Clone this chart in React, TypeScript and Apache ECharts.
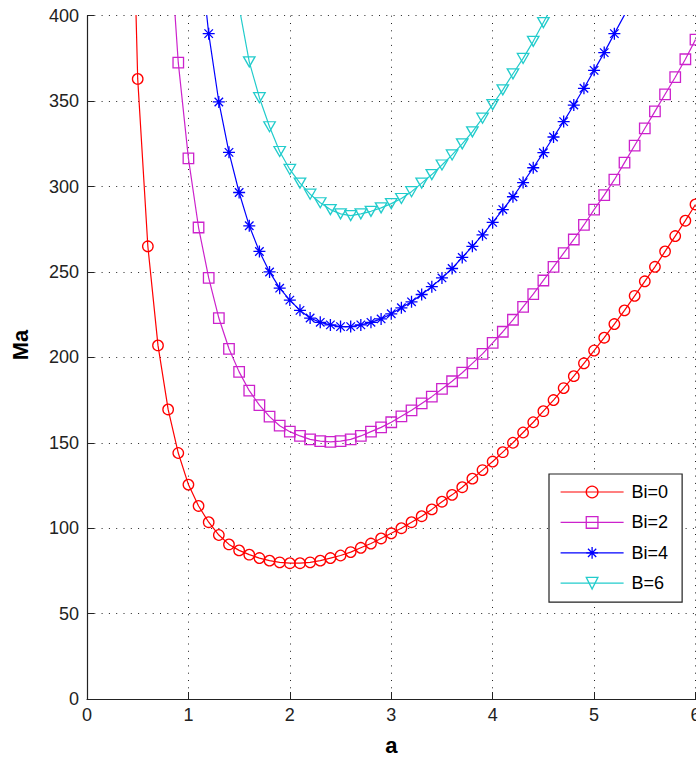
import { useEffect, useRef } from "react";
import * as echarts from "echarts";

// a values (step 0.1) shared by all curves
const aGrid = [
  0.4, 0.5, 0.6, 0.7, 0.8, 0.9, 1.0, 1.1, 1.2, 1.3, 1.4, 1.5, 1.6, 1.7, 1.8, 1.9,
  2.0, 2.1, 2.2, 2.3, 2.4, 2.5, 2.6, 2.7, 2.8, 2.9, 3.0, 3.1, 3.2, 3.3, 3.4, 3.5,
  3.6, 3.7, 3.8, 3.9, 4.0, 4.1, 4.2, 4.3, 4.4, 4.5, 4.6, 4.7, 4.8, 4.9, 5.0, 5.1,
  5.2, 5.3, 5.4, 5.5, 5.6, 5.7, 5.8, 5.9, 6.0,
];

const seriesNames = ["Bi=0", "Bi=2", "Bi=4", "B=6"];

// Bi=0, starts at a=0.4
const bi0Start = 0;
const bi0 = [
  590, 363, 265, 207, 169.5, 144, 125.5, 113, 103.5, 96, 90.5, 87, 84.5, 82.5, 81, 80,
  79.5, 79.5, 80, 81, 82.5, 84, 86, 88.5, 91, 94, 97, 100, 103.5, 107, 111, 115.5,
  119.5, 124, 129, 134, 139, 144.5, 150, 156, 162, 168.5, 175, 182, 189, 196.5, 204, 211.5,
  219.5, 227.5, 236, 244.5, 253, 262, 271, 280, 289.5,
];

// Bi=2, starts at a=0.8
const bi2Start = 4;
const bi2 = [
  460, 372.5, 316.5, 276, 246.5, 223, 205, 191.5, 180.5, 172, 165.3, 160,
  156.5, 154, 152, 151, 150.5, 151, 152, 154, 156.5, 159, 162, 165.5, 169, 173, 177, 181.5,
  186, 191, 196.5, 202, 208.5, 215, 222, 229.5, 237, 245, 253, 261, 269, 277.5, 286.5, 295,
  304, 314, 324, 334, 344, 354, 364, 374.5, 386,
];

// Bi=4, starts at a=1.1
const bi4Start = 7;
const bi4 = [
  445, 389.5, 349.5, 320, 296.5, 277, 262, 250, 240.5, 233.5, 227.5, 223, 220.5, 219, 218,
  218, 219, 220.5, 222.5, 225.5, 229, 232.5, 236.8, 241.4, 246.5, 252, 258.5, 265, 271.7,
  279, 286.5, 294, 302.3, 311, 319.8, 329, 338, 347.7, 357.5, 368, 378.4, 389.5, 400.5,
];

// B=6, starts at a=1.4
const b6Start = 10;
const b6 = [
  450, 405, 373, 352, 335, 320.5, 310, 302, 295.5, 290.5, 286.5, 284, 283, 284, 285.5,
  287.5, 290, 293, 297, 302, 307, 312.6, 318.5, 325, 332, 340, 348, 356.6, 366, 375,
  385, 396, 407,
];

const xTicks = [0, 1, 2, 3, 4, 5, 6];
const yTicks = [0, 50, 100, 150, 200, 250, 300, 350, 400];

const colors = ["#ff0000", "#cc22cc", "#0000ff", "#22cccc"];
const symbols = [
  "circle",
  "rect",
  "path://M0,-10L0,10M-10,0L10,0M-7.07,-7.07L7.07,7.07M-7.07,7.07L7.07,-7.07",
  "path://M-10,-8.66L10,-8.66L0,8.66Z",
];
const symbolSizes: any[] = [10.5, 10.5, 12, [11.5, 10]];

const FONT = "'Liberation Sans', Arial, Helvetica, sans-serif";

function pairs(start: number, vals: number[]) {
  return vals.map((v, i) => [aGrid[start + i], v]);
}

export default function App() {
  const ref = useRef<HTMLDivElement>(null);
  useEffect(() => {
    if (!ref.current) return;
    const chart = echarts.init(ref.current, undefined, { renderer: "svg" });
    const datasets = [
      pairs(bi0Start, bi0),
      pairs(bi2Start, bi2),
      pairs(bi4Start, bi4),
      pairs(b6Start, b6),
    ];
    const series = datasets.map((d, i) => ({
      name: seriesNames[i],
      type: "line",
      data: d,
      symbol: symbols[i],
      symbolSize: symbolSizes[i],
      showAllSymbol: true,
      clip: true,
      lineStyle: { color: colors[i], width: 1.2 },
      itemStyle: {
        color: i === 2 ? colors[i] : "transparent",
        borderColor: colors[i],
        borderWidth: 1.3,
      },
      emphasis: { disabled: true },
      z: 2 + i,
    }));
    const splitLineStyle = { color: "#222", width: 1, type: [1, 6.3] as any };
    chart.setOption({
      animation: false,
      backgroundColor: "#ffffff",
      textStyle: { fontFamily: FONT },
      grid: {
        left: 87,
        right: 0.5,
        top: 15.7,
        bottom: 58,
        containLabel: false,
        outerBoundsMode: "none",
      },
      xAxis: {
        type: "value",
        min: xTicks[0],
        max: xTicks[xTicks.length - 1],
        interval: 1,
        name: "a",
        nameLocation: "middle",
        nameGap: 35,
        nameTextStyle: { fontSize: 22, fontWeight: "bold", color: "#000", fontFamily: FONT },
        axisLine: { show: true, onZero: false, lineStyle: { color: "#222", width: 1.2 } },
        axisTick: { show: true, inside: true, length: 7, lineStyle: { color: "#222" } },
        axisLabel: { fontSize: 18, color: "#222", margin: 7, fontFamily: FONT },
        splitLine: { show: true, lineStyle: splitLineStyle },
      },
      yAxis: {
        type: "value",
        min: yTicks[0],
        max: yTicks[yTicks.length - 1],
        interval: 50,
        axisLine: { show: true, onZero: false, lineStyle: { color: "#222", width: 1.2 } },
        axisTick: { show: true, inside: true, length: 7, lineStyle: { color: "#222" } },
        axisLabel: { fontSize: 18, color: "#222", margin: 8, fontFamily: FONT },
        splitLine: { show: true, lineStyle: splitLineStyle },
      },
      legend: {
        show: true,
        orient: "vertical",
        left: 549,
        top: 474,
        padding: [9, 14, 10, 11],
        itemWidth: 63,
        itemHeight: 14.6,
        itemGap: 12.4,
        backgroundColor: "#ffffff",
        borderColor: "#222",
        borderWidth: 1.2,
        textStyle: { fontSize: 18, color: "#000", fontFamily: FONT, padding: [0, 0, 0, 3] },
        data: seriesNames.map((n, i) => ({
          name: n,
          itemStyle: {
            color: i === 2 ? colors[i] : "transparent",
            borderColor: colors[i],
            borderWidth: 1.3,
          },
          lineStyle: { color: colors[i], width: 1.2 },
        })),
      },
      graphic: [
        {
          type: "text",
          x: 20,
          y: 345,
          rotation: Math.PI / 2,
          style: {
            text: "Ma",
            font: `bold 22px ${FONT}`,
            fill: "#000",
            textAlign: "center",
            textVerticalAlign: "middle",
          },
        },
      ],
      series,
    });
    return () => chart.dispose();
  }, []);
  return (
    <div
      ref={ref}
      style={{ position: "absolute", left: 0, top: 0, width: 696, height: 757 }}
    />
  );
}
